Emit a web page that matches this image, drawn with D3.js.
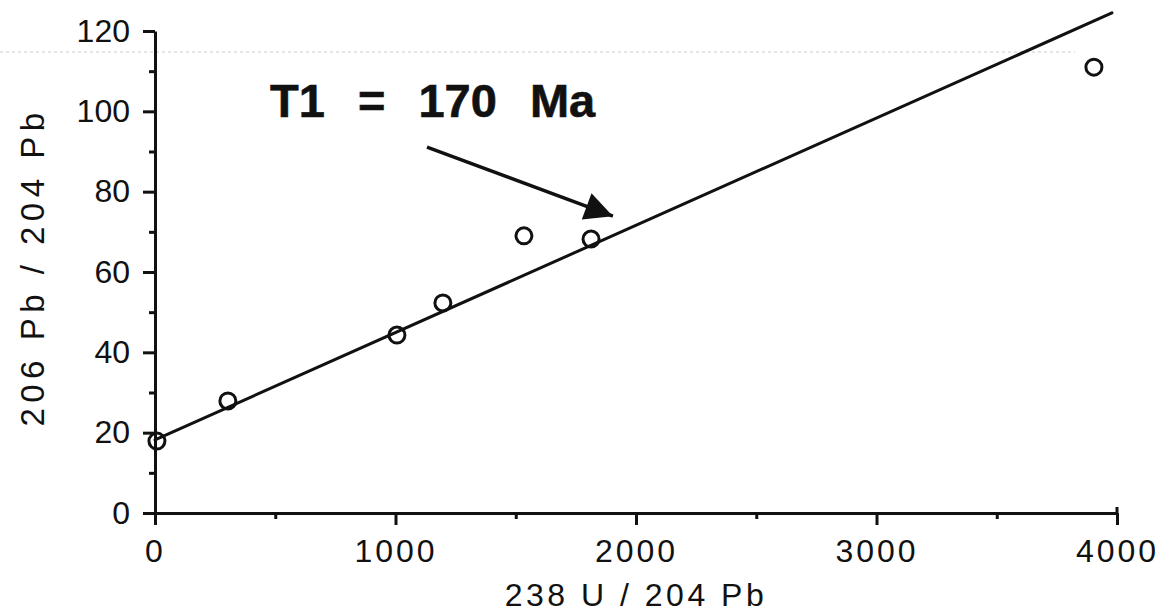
<!DOCTYPE html>
<html><head><meta charset="utf-8">
<script src="https://cdn.jsdelivr.net/npm/d3@7"></script>
<style>
html,body{margin:0;padding:0;background:#fff;}
svg{display:block;}
text{font-family:"Liberation Sans",Arial,Helvetica,sans-serif;fill:#111;}
</style></head>
<body>
<svg id="chart" width="1172" height="616"></svg>
<script>
// Data
const ratioU = [8, 303, 1006, 1197, 1534, 1813, 3904];          // 238U/204Pb
const ratioPb = [17.9, 27.9, 44.3, 52.3, 69.0, 68.2, 111.0];    // 206Pb/204Pb
const isochronX = [0, 3979];
const isochronY = [18.2, 124.5];
const arrowFrom = [1131, 91.1];
const arrowTo = [1904, 73.9];
const xTicks = [0, 1000, 2000, 3000, 4000];
const xMinorTicks = [500, 1500, 2500, 3500];
const yTicks = [0, 20, 40, 60, 80, 100, 120];
const yMinorTicks = [10, 30, 50, 70, 90, 110];
const annotation = "T1 = 170 Ma";
const xTitle = "238 U / 204 Pb";
const yTitle = "206 Pb / 204 Pb";

const svg = d3.select("#chart");
const x = d3.scaleLinear().domain([0, 4000]).range([155, 1117]);
const y = d3.scaleLinear().domain([0, 120]).range([513, 31]);
const ink = "#111";
const sw = 3;

// faint scan line
svg.append("line").attr("x1", 0).attr("x2", 1075).attr("y1", 52).attr("y2", 52)
  .attr("stroke", "#ccc").attr("stroke-width", 1).attr("stroke-dasharray", "3,3");

// X axis
const gx = svg.append("g").attr("transform", `translate(0,${y(0)})`)
  .call(d3.axisBottom(x).tickValues(xTicks).tickFormat(d3.format("d")).tickSize(12).tickSizeOuter(0).tickPadding(14));
gx.select(".domain").attr("stroke", ink).attr("stroke-width", sw);
gx.selectAll(".tick line").attr("stroke", ink).attr("stroke-width", sw);
gx.selectAll(".tick text").attr("font-size", 32).attr("letter-spacing", "3px")
  .attr("font-family", "Liberation Sans, Arial, sans-serif").attr("fill", ink);
svg.append("g").attr("transform", `translate(0,${y(0)})`)
  .call(d3.axisBottom(x).tickValues(xMinorTicks).tickSize(6).tickFormat(""))
  .call(g => { g.select(".domain").remove(); g.selectAll(".tick line").attr("stroke", ink).attr("stroke-width", sw); });
// end bracket at 4000
svg.append("line").attr("x1", x(4000)).attr("x2", x(4000)).attr("y1", y(0) - 6).attr("y2", y(0))
  .attr("stroke", ink).attr("stroke-width", sw);

// Y axis
const gy = svg.append("g").attr("transform", `translate(${x(0)},0)`)
  .call(d3.axisLeft(y).tickValues(yTicks).tickSize(12).tickSizeOuter(0).tickPadding(13));
gy.select(".domain").attr("stroke", ink).attr("stroke-width", sw);
gy.selectAll(".tick line").attr("stroke", ink).attr("stroke-width", sw);
gy.selectAll(".tick text").attr("font-size", 32)
  .attr("font-family", "Liberation Sans, Arial, sans-serif").attr("fill", ink);
svg.append("g").attr("transform", `translate(${x(0)},0)`)
  .call(d3.axisLeft(y).tickValues(yMinorTicks).tickSize(6).tickFormat(""))
  .call(g => { g.select(".domain").remove(); g.selectAll(".tick line").attr("stroke", ink).attr("stroke-width", sw); });

// Isochron line
svg.append("line")
  .attr("x1", x(isochronX[0])).attr("y1", y(isochronY[0]))
  .attr("x2", x(isochronX[1])).attr("y2", y(isochronY[1]))
  .attr("stroke", ink).attr("stroke-width", sw).attr("stroke-linecap", "round");

// Points
svg.append("g").selectAll("circle").data(ratioU.map((u, i) => [u, ratioPb[i]])).join("circle")
  .attr("cx", d => x(d[0])).attr("cy", d => y(d[1])).attr("r", 8)
  .attr("fill", "none").attr("stroke", ink).attr("stroke-width", sw);

// Arrow
svg.append("defs").append("marker").attr("id", "ah")
  .attr("viewBox", "0 0 10 10").attr("refX", 10).attr("refY", 5)
  .attr("markerWidth", 34).attr("markerHeight", 28).attr("markerUnits", "userSpaceOnUse")
  .attr("orient", "auto")
  .append("path").attr("d", "M0,0 L10,5 L0,10 z").attr("fill", ink);
svg.append("line")
  .attr("x1", x(arrowFrom[0])).attr("y1", y(arrowFrom[1]))
  .attr("x2", x(arrowTo[0])).attr("y2", y(arrowTo[1]))
  .attr("stroke", ink).attr("stroke-width", 3.5).attr("marker-end", "url(#ah)");

// Annotation
svg.append("text").attr("x", 270).attr("y", 117)
  .attr("font-size", 47).attr("font-weight", "bold").attr("word-spacing", "20px")
  .attr("stroke", ink).attr("stroke-width", 0.6)
  .text(annotation);

// Axis titles
svg.append("text").attr("x", 636).attr("y", 606).attr("text-anchor", "middle")
  .attr("font-size", 32).attr("letter-spacing", "3.5px").text(xTitle);
svg.append("text").attr("transform", "translate(44,267) rotate(-90)").attr("text-anchor", "middle")
  .attr("font-size", 33).attr("letter-spacing", "5.5px").text(yTitle);
</script>
</body></html>
